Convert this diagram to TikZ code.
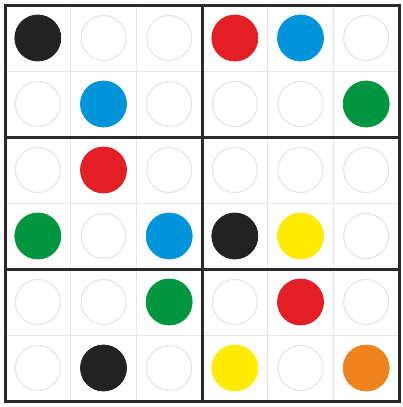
\documentclass[tikz,border=0pt]{standalone}
\definecolor{cblack}{HTML}{222222}
\definecolor{cred}{HTML}{E31E24}
\definecolor{cblue}{HTML}{0095DA}
\definecolor{cgreen}{HTML}{00963F}
\definecolor{cyellow}{HTML}{FFEC00}
\definecolor{corange}{HTML}{F0831E}
\definecolor{cring}{HTML}{E2E2E2}
\definecolor{cgrid}{HTML}{E6E6EA}
\definecolor{cthick}{HTML}{2A2A2A}
\tikzset{
  dot/.style={circle,minimum size=46pt,inner sep=0pt,line width=0.8pt},
  thinline/.style={draw=cgrid,line width=0.8pt},
  thickline/.style={draw=cthick,line width=3pt},
}
\begin{document}
\begin{tikzpicture}[x=1pt,y=-1pt]
\useasboundingbox (0,0) rectangle (403,407);
\fill[white] (0,0) rectangle (403,407);
\def\cw{65.67}
\def\ch{66}
% thin grid
\foreach \i in {1,2,4,5} {
  \draw[thinline] (5+\i*\cw,5) -- (5+\i*\cw,401);
}
\foreach \j in {1,3,5} {
  \draw[thinline] (5,5+\j*\ch) -- (399,5+\j*\ch);
}
% circles
\foreach \r/\c/\col in {
 0/0/cblack,0/1/white,0/2/white,0/3/cred,0/4/cblue,0/5/white,
 1/0/white,1/1/cblue,1/2/white,1/3/white,1/4/white,1/5/cgreen,
 2/0/white,2/1/cred,2/2/white,2/3/white,2/4/white,2/5/white,
 3/0/cgreen,3/1/white,3/2/cblue,3/3/cblack,3/4/cyellow,3/5/white,
 4/0/white,4/1/white,4/2/cgreen,4/3/white,4/4/cred,4/5/white,
 5/0/white,5/1/cblack,5/2/white,5/3/cyellow,5/4/white,5/5/corange} {
  \ifx\col\whitename
  \fi
  \node[dot,fill=\col,draw=\col] (c-\r-\c) at (5+\c*\cw+0.5*\cw,5+\r*\ch+0.5*\ch) {};
}
% white rings
\foreach \r/\c in {0/1,0/2,0/5,1/0,1/2,1/3,1/4,2/0,2/2,2/3,2/4,2/5,3/1,3/5,4/0,4/1,4/3,4/5,5/0,5/2,5/4} {
  \draw[cring,line width=1pt] (c-\r-\c) circle (22.5pt);
}
% thick lines
\draw[thickline] (5+3*\cw,5) -- (5+3*\cw,401);
\draw[thickline] (5,5+2*\ch) -- (399,5+2*\ch);
\draw[thickline] (5,5+4*\ch) -- (399,5+4*\ch);
\draw[thickline] (5,5) rectangle (399,401);
\end{tikzpicture}
\end{document}
